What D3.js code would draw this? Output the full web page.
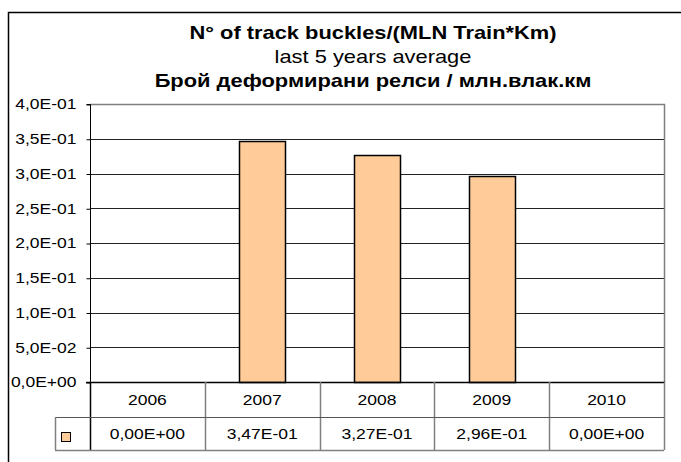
<!DOCTYPE html>
<html>
<head>
<meta charset="utf-8">
<script src="https://cdn.jsdelivr.net/npm/d3@7"></script>
<style>
  body { margin: 0; background: #fff; }
  svg { font-family: "Liberation Sans", Arial, sans-serif; }
</style>
</head>
<body>
<svg id="chart" width="681" height="462"></svg>
<script>
	var years = ["2006", "2007", "2008", "2009", "2010"];
	var values = [0, 0.347, 0.327, 0.296, 0];
	var valueLabels = ["0,00E+00", "3,47E-01", "3,27E-01", "2,96E-01", "0,00E+00"];
	var yTicks = [0, 0.05, 0.1, 0.15, 0.2, 0.25, 0.3, 0.35, 0.4];
	var yTickLabels = ["0,0E+00", "5,0E-02", "1,0E-01", "1,5E-01", "2,0E-01", "2,5E-01", "3,0E-01", "3,5E-01", "4,0E-01"];
	var titles = ["N° of track buckles/(MLN Train*Km)", "last 5 years average", "Брой деформирани релси / млн.влак.км"];

	var plotL = 90, plotR = 664, plotT = 104, plotB = 382;
	var rowH = [382, 417, 450];
	var sx = 1.25; // the picture is stretched sideways, text too
	var svg = d3.select("#chart");

	// outer frame
	svg.append("path")
		.attr("d", "M8.5,462 V12.5 H681")
		.attr("fill", "none")
		.attr("stroke", "#000")
		.attr("stroke-width", 1.5);

	// titles
	svg.selectAll(".title")
		.data(titles)
		.enter().append("text")
		.attr("class", "title")
		.attr("transform", function (d, i) { return "translate(373," + (39 + i * 24) + ") scale(" + sx + ",1)"; })
		.attr("text-anchor", "middle")
		.attr("font-size", "17.5px")
		.attr("font-weight", function (d, i) { return i == 1 ? "normal" : "bold"; })
		.text(function (d) { return d; });

	var x = d3.scaleBand().domain(years).range([plotL, plotR]).paddingInner(0).paddingOuter(0);
	var y = d3.scaleLinear().domain([0, 0.4]).range([plotB, plotT]);

	// gridlines
	svg.selectAll(".grid")
		.data(yTicks.slice(1, 8))
		.enter().append("line")
		.attr("class", "grid")
		.attr("x1", plotL).attr("x2", plotR)
		.attr("y1", function (d) { return Math.round(y(d)) + 0.5; })
		.attr("y2", function (d) { return Math.round(y(d)) + 0.5; })
		.attr("stroke", "#222");

	// plot frame top/right
	svg.append("path")
		.attr("d", "M" + plotL + "," + (plotT + 0.5) + " H" + (plotR + 0.5) + " V" + plotB)
		.attr("fill", "none")
		.attr("stroke", "#808080")
		.attr("stroke-width", 1.5);

	// bars
	var bw = 46;
	svg.selectAll(".bar")
		.data(values)
		.enter().append("rect")
		.attr("class", "bar")
		.attr("x", function (d, i) { return Math.round(x(years[i]) + x.bandwidth() / 2 - bw / 2) + 0.5; })
		.attr("y", function (d) { return Math.round(y(d)) + 0.5; })
		.attr("width", bw)
		.attr("height", function (d) { return Math.round(plotB - y(d)); })
		.style("fill", "#FFCC99")
		.style("stroke", "#000")
		.style("stroke-width", 1.5)
		.style("display", function (d) { return d > 0 ? null : "none"; });

	// y axis
	var yAxis = d3.axisLeft(y)
		.tickValues(yTicks)
		.tickSize(4)
		.tickFormat(function (d, i) { return yTickLabels[i]; });
	var ya = svg.append("g")
		.attr("transform", "translate(" + (plotL + 0.5) + ",0.5)")
		.call(yAxis);
	ya.select(".domain").attr("stroke", "#000").attr("d", "M-4," + plotT + "H0V" + plotB);
	ya.selectAll(".tick line").attr("stroke", "#000");
	ya.selectAll(".tick text")
		.attr("x", -14 / sx)
		.attr("transform", "scale(" + sx + ",1)")
		.attr("font-size", "14px")
		.attr("font-family", "Liberation Sans, Arial, sans-serif")
		.attr("fill", "#000");

	// x axis line
	svg.append("line")
		.attr("x1", plotL - 4).attr("x2", plotR + 1)
		.attr("y1", plotB + 0.5).attr("y2", plotB + 0.5)
		.attr("stroke", "#000").attr("stroke-width", 1.5);

	// data table
	var tbl = svg.append("g");
	var colEdges = years.map(function (d) { return x(d); }).concat([plotR]);
	tbl.selectAll(".vline")
		.data(colEdges)
		.enter().append("line")
		.attr("x1", function (d) { return Math.round(d) + 0.5; })
		.attr("x2", function (d) { return Math.round(d) + 0.5; })
		.attr("y1", plotB)
		.attr("y2", rowH[2])
		.attr("stroke", function (d, i) { return i == 0 ? "#000" : "#808080"; })
		.attr("stroke-width", 1.5);
	tbl.append("line")
		.attr("x1", 55).attr("x2", plotR)
		.attr("y1", rowH[1] + 0.5).attr("y2", rowH[1] + 0.5)
		.attr("stroke", "#555").attr("stroke-width", 1.2);
	tbl.append("line")
		.attr("x1", 55).attr("x2", plotR)
		.attr("y1", rowH[2] + 0.5).attr("y2", rowH[2] + 0.5)
		.attr("stroke", "#808080").attr("stroke-width", 1.5);
	tbl.append("line")
		.attr("x1", 55.5).attr("x2", 55.5)
		.attr("y1", rowH[1]).attr("y2", rowH[2])
		.attr("stroke", "#808080").attr("stroke-width", 1.5);

	tbl.selectAll(".cat")
		.data(years)
		.enter().append("text")
		.attr("transform", function (d) { return "translate(" + (x(d) + x.bandwidth() / 2) + ",405) scale(" + sx + ",1)"; })
		.attr("text-anchor", "middle")
		.attr("font-size", "14px")
		.text(function (d) { return d; });

	tbl.selectAll(".val")
		.data(valueLabels)
		.enter().append("text")
		.attr("transform", function (d, i) { return "translate(" + (x(years[i]) + x.bandwidth() / 2) + ",439) scale(" + sx + ",1)"; })
		.attr("text-anchor", "middle")
		.attr("font-size", "14px")
		.text(function (d) { return d; });

	// legend key
	tbl.append("rect")
		.attr("x", 61.5).attr("y", 432.5)
		.attr("width", 9).attr("height", 9)
		.style("fill", "#FFCC99")
		.style("stroke", "#000");
</script>
</body>
</html>
